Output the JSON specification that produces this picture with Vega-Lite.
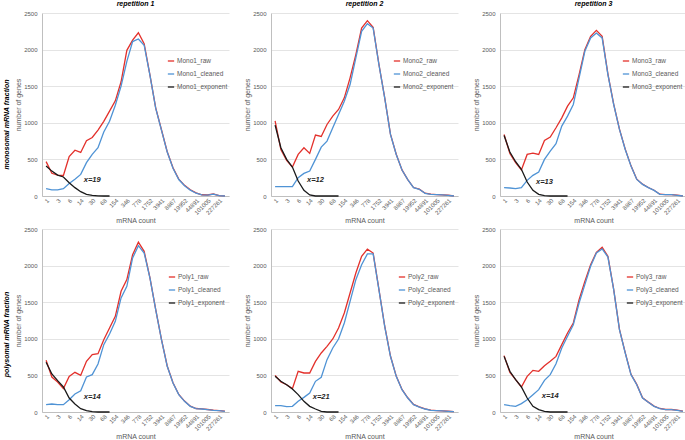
{
"$schema": "https://vega.github.io/schema/vega-lite/v6.json",
"background": "white",
"padding": {"left": 2, "top": 0, "right": 1, "bottom": 0},
"config": {
  "font": "Liberation Sans",
  "view": {"stroke": null},
  "axis": {"labelFontSize": 6, "labelColor": "#595959", "titleFontSize": 7, "titleColor": "#595959", "titleFontWeight": "normal", "domainColor": "#bfbfbf", "ticks": false, "gridColor": "#e4e4e4"},
  "axisX": {"grid": false, "labelAngle": -45, "labelPadding": 1, "titlePadding": 1},
  "axisY": {"grid": true, "labelPadding": 5, "titlePadding": 2, "format": "d"},
  "legend": {"orient": "none", "labelFontSize": 6.5, "labelColor": "#595959", "symbolType": "stroke", "symbolSize": 40, "symbolStrokeWidth": 1.5, "rowPadding": 5, "padding": 0, "labelOffset": 2},
  "title": {"fontSize": 7, "fontStyle": "italic", "fontWeight": "bold", "color": "#000000", "offset": 3},
  "line": {"strokeWidth": 1.3},
  "text": {"fontSize": 7.5, "fontStyle": "italic", "fontWeight": "bold", "color": "#262626"},
  "rule": {"color": "#c0c0c0", "strokeWidth": 1}
},
"datasets": {
"Mono1": [
{"s":"Mono1_raw","c":"1","v":470},{"s":"Mono1_raw","c":"2","v":310},{"s":"Mono1_raw","c":"3","v":285},{"s":"Mono1_raw","c":"4","v":280},{"s":"Mono1_raw","c":"6","v":540},{"s":"Mono1_raw","c":"9","v":625},{"s":"Mono1_raw","c":"14","v":595},{"s":"Mono1_raw","c":"20","v":755},{"s":"Mono1_raw","c":"30","v":800},{"s":"Mono1_raw","c":"45","v":900},{"s":"Mono1_raw","c":"68","v":1020},{"s":"Mono1_raw","c":"102","v":1160},{"s":"Mono1_raw","c":"154","v":1300},{"s":"Mono1_raw","c":"230","v":1560},{"s":"Mono1_raw","c":"346","v":1990},{"s":"Mono1_raw","c":"519","v":2130},{"s":"Mono1_raw","c":"778","v":2230},{"s":"Mono1_raw","c":"1168","v":2080},{"s":"Mono1_raw","c":"1752","v":1655},{"s":"Mono1_raw","c":"2628","v":1205},{"s":"Mono1_raw","c":"3941","v":905},{"s":"Mono1_raw","c":"5912","v":605},{"s":"Mono1_raw","c":"8867","v":385},{"s":"Mono1_raw","c":"13301","v":230},{"s":"Mono1_raw","c":"19952","v":145},{"s":"Mono1_raw","c":"29928","v":85},{"s":"Mono1_raw","c":"44891","v":42},{"s":"Mono1_raw","c":"67337","v":17},{"s":"Mono1_raw","c":"101005","v":14},{"s":"Mono1_raw","c":"151508","v":27},{"s":"Mono1_raw","c":"227261","v":6},{"s":"Mono1_raw","c":"340892","v":1},
{"s":"Mono1_cleaned","c":"1","v":100},{"s":"Mono1_cleaned","c":"2","v":85},{"s":"Mono1_cleaned","c":"3","v":85},{"s":"Mono1_cleaned","c":"4","v":100},{"s":"Mono1_cleaned","c":"6","v":170},{"s":"Mono1_cleaned","c":"9","v":230},{"s":"Mono1_cleaned","c":"14","v":295},{"s":"Mono1_cleaned","c":"20","v":455},{"s":"Mono1_cleaned","c":"30","v":570},{"s":"Mono1_cleaned","c":"45","v":660},{"s":"Mono1_cleaned","c":"68","v":875},{"s":"Mono1_cleaned","c":"102","v":1020},{"s":"Mono1_cleaned","c":"154","v":1240},{"s":"Mono1_cleaned","c":"230","v":1500},{"s":"Mono1_cleaned","c":"346","v":1840},{"s":"Mono1_cleaned","c":"519","v":2110},{"s":"Mono1_cleaned","c":"778","v":2145},{"s":"Mono1_cleaned","c":"1168","v":2060},{"s":"Mono1_cleaned","c":"1752","v":1650},{"s":"Mono1_cleaned","c":"2628","v":1200},{"s":"Mono1_cleaned","c":"3941","v":900},{"s":"Mono1_cleaned","c":"5912","v":600},{"s":"Mono1_cleaned","c":"8867","v":380},{"s":"Mono1_cleaned","c":"13301","v":225},{"s":"Mono1_cleaned","c":"19952","v":140},{"s":"Mono1_cleaned","c":"29928","v":80},{"s":"Mono1_cleaned","c":"44891","v":38},{"s":"Mono1_cleaned","c":"67337","v":15},{"s":"Mono1_cleaned","c":"101005","v":12},{"s":"Mono1_cleaned","c":"151508","v":25},{"s":"Mono1_cleaned","c":"227261","v":5},{"s":"Mono1_cleaned","c":"340892","v":0},
{"s":"Mono1_exponent","c":"1","v":410},{"s":"Mono1_exponent","c":"2","v":340},{"s":"Mono1_exponent","c":"3","v":285},{"s":"Mono1_exponent","c":"4","v":260},{"s":"Mono1_exponent","c":"6","v":182},{"s":"Mono1_exponent","c":"9","v":114},{"s":"Mono1_exponent","c":"14","v":59},{"s":"Mono1_exponent","c":"20","v":23},{"s":"Mono1_exponent","c":"30","v":9},{"s":"Mono1_exponent","c":"45","v":2},{"s":"Mono1_exponent","c":"68","v":0},{"s":"Mono1_exponent","c":"102","v":0}
],
"Mono2": [
{"s":"Mono2_raw","c":"1","v":1025},{"s":"Mono2_raw","c":"2","v":636},{"s":"Mono2_raw","c":"3","v":486},{"s":"Mono2_raw","c":"4","v":395},{"s":"Mono2_raw","c":"6","v":568},{"s":"Mono2_raw","c":"9","v":659},{"s":"Mono2_raw","c":"14","v":582},{"s":"Mono2_raw","c":"20","v":832},{"s":"Mono2_raw","c":"30","v":814},{"s":"Mono2_raw","c":"45","v":977},{"s":"Mono2_raw","c":"68","v":1091},{"s":"Mono2_raw","c":"102","v":1182},{"s":"Mono2_raw","c":"154","v":1341},{"s":"Mono2_raw","c":"230","v":1614},{"s":"Mono2_raw","c":"346","v":1932},{"s":"Mono2_raw","c":"519","v":2295},{"s":"Mono2_raw","c":"778","v":2395},{"s":"Mono2_raw","c":"1168","v":2304},{"s":"Mono2_raw","c":"1752","v":1800},{"s":"Mono2_raw","c":"2628","v":1345},{"s":"Mono2_raw","c":"3941","v":845},{"s":"Mono2_raw","c":"5912","v":570},{"s":"Mono2_raw","c":"8867","v":357},{"s":"Mono2_raw","c":"13301","v":225},{"s":"Mono2_raw","c":"19952","v":116},{"s":"Mono2_raw","c":"29928","v":93},{"s":"Mono2_raw","c":"44891","v":38},{"s":"Mono2_raw","c":"67337","v":25},{"s":"Mono2_raw","c":"101005","v":20},{"s":"Mono2_raw","c":"151508","v":16},{"s":"Mono2_raw","c":"227261","v":10},{"s":"Mono2_raw","c":"340892","v":2},
{"s":"Mono2_cleaned","c":"1","v":127},{"s":"Mono2_cleaned","c":"2","v":127},{"s":"Mono2_cleaned","c":"3","v":127},{"s":"Mono2_cleaned","c":"4","v":127},{"s":"Mono2_cleaned","c":"6","v":250},{"s":"Mono2_cleaned","c":"9","v":309},{"s":"Mono2_cleaned","c":"14","v":341},{"s":"Mono2_cleaned","c":"20","v":500},{"s":"Mono2_cleaned","c":"30","v":668},{"s":"Mono2_cleaned","c":"45","v":750},{"s":"Mono2_cleaned","c":"68","v":932},{"s":"Mono2_cleaned","c":"102","v":1114},{"s":"Mono2_cleaned","c":"154","v":1295},{"s":"Mono2_cleaned","c":"230","v":1523},{"s":"Mono2_cleaned","c":"346","v":1886},{"s":"Mono2_cleaned","c":"519","v":2250},{"s":"Mono2_cleaned","c":"778","v":2354},{"s":"Mono2_cleaned","c":"1168","v":2295},{"s":"Mono2_cleaned","c":"1752","v":1795},{"s":"Mono2_cleaned","c":"2628","v":1341},{"s":"Mono2_cleaned","c":"3941","v":841},{"s":"Mono2_cleaned","c":"5912","v":568},{"s":"Mono2_cleaned","c":"8867","v":355},{"s":"Mono2_cleaned","c":"13301","v":223},{"s":"Mono2_cleaned","c":"19952","v":114},{"s":"Mono2_cleaned","c":"29928","v":91},{"s":"Mono2_cleaned","c":"44891","v":36},{"s":"Mono2_cleaned","c":"67337","v":23},{"s":"Mono2_cleaned","c":"101005","v":18},{"s":"Mono2_cleaned","c":"151508","v":14},{"s":"Mono2_cleaned","c":"227261","v":9},{"s":"Mono2_cleaned","c":"340892","v":0},
{"s":"Mono2_exponent","c":"1","v":968},{"s":"Mono2_exponent","c":"2","v":659},{"s":"Mono2_exponent","c":"3","v":500},{"s":"Mono2_exponent","c":"4","v":395},{"s":"Mono2_exponent","c":"6","v":205},{"s":"Mono2_exponent","c":"9","v":77},{"s":"Mono2_exponent","c":"14","v":14},{"s":"Mono2_exponent","c":"20","v":0},{"s":"Mono2_exponent","c":"30","v":0},{"s":"Mono2_exponent","c":"45","v":0},{"s":"Mono2_exponent","c":"68","v":0},{"s":"Mono2_exponent","c":"102","v":0}
],
"Mono3": [
{"s":"Mono3_raw","c":"1","v":841},{"s":"Mono3_raw","c":"2","v":582},{"s":"Mono3_raw","c":"3","v":455},{"s":"Mono3_raw","c":"4","v":355},{"s":"Mono3_raw","c":"6","v":568},{"s":"Mono3_raw","c":"9","v":586},{"s":"Mono3_raw","c":"14","v":568},{"s":"Mono3_raw","c":"20","v":759},{"s":"Mono3_raw","c":"30","v":805},{"s":"Mono3_raw","c":"45","v":932},{"s":"Mono3_raw","c":"68","v":1068},{"s":"Mono3_raw","c":"102","v":1227},{"s":"Mono3_raw","c":"154","v":1341},{"s":"Mono3_raw","c":"230","v":1659},{"s":"Mono3_raw","c":"346","v":2000},{"s":"Mono3_raw","c":"519","v":2182},{"s":"Mono3_raw","c":"778","v":2263},{"s":"Mono3_raw","c":"1168","v":2182},{"s":"Mono3_raw","c":"1752","v":1665},{"s":"Mono3_raw","c":"2628","v":1255},{"s":"Mono3_raw","c":"3941","v":914},{"s":"Mono3_raw","c":"5912","v":640},{"s":"Mono3_raw","c":"8867","v":412},{"s":"Mono3_raw","c":"13301","v":230},{"s":"Mono3_raw","c":"19952","v":162},{"s":"Mono3_raw","c":"29928","v":116},{"s":"Mono3_raw","c":"44891","v":79},{"s":"Mono3_raw","c":"67337","v":25},{"s":"Mono3_raw","c":"101005","v":20},{"s":"Mono3_raw","c":"151508","v":20},{"s":"Mono3_raw","c":"227261","v":11},{"s":"Mono3_raw","c":"340892","v":2},
{"s":"Mono3_cleaned","c":"1","v":114},{"s":"Mono3_cleaned","c":"2","v":109},{"s":"Mono3_cleaned","c":"3","v":100},{"s":"Mono3_cleaned","c":"4","v":114},{"s":"Mono3_cleaned","c":"6","v":214},{"s":"Mono3_cleaned","c":"9","v":282},{"s":"Mono3_cleaned","c":"14","v":327},{"s":"Mono3_cleaned","c":"20","v":500},{"s":"Mono3_cleaned","c":"30","v":614},{"s":"Mono3_cleaned","c":"45","v":714},{"s":"Mono3_cleaned","c":"68","v":955},{"s":"Mono3_cleaned","c":"102","v":1091},{"s":"Mono3_cleaned","c":"154","v":1250},{"s":"Mono3_cleaned","c":"230","v":1614},{"s":"Mono3_cleaned","c":"346","v":1977},{"s":"Mono3_cleaned","c":"519","v":2159},{"s":"Mono3_cleaned","c":"778","v":2227},{"s":"Mono3_cleaned","c":"1168","v":2159},{"s":"Mono3_cleaned","c":"1752","v":1659},{"s":"Mono3_cleaned","c":"2628","v":1250},{"s":"Mono3_cleaned","c":"3941","v":909},{"s":"Mono3_cleaned","c":"5912","v":636},{"s":"Mono3_cleaned","c":"8867","v":409},{"s":"Mono3_cleaned","c":"13301","v":227},{"s":"Mono3_cleaned","c":"19952","v":159},{"s":"Mono3_cleaned","c":"29928","v":114},{"s":"Mono3_cleaned","c":"44891","v":77},{"s":"Mono3_cleaned","c":"67337","v":23},{"s":"Mono3_cleaned","c":"101005","v":18},{"s":"Mono3_cleaned","c":"151508","v":18},{"s":"Mono3_cleaned","c":"227261","v":9},{"s":"Mono3_cleaned","c":"340892","v":0},
{"s":"Mono3_exponent","c":"1","v":827},{"s":"Mono3_exponent","c":"2","v":600},{"s":"Mono3_exponent","c":"3","v":468},{"s":"Mono3_exponent","c":"4","v":364},{"s":"Mono3_exponent","c":"6","v":191},{"s":"Mono3_exponent","c":"9","v":77},{"s":"Mono3_exponent","c":"14","v":23},{"s":"Mono3_exponent","c":"20","v":5},{"s":"Mono3_exponent","c":"30","v":0},{"s":"Mono3_exponent","c":"45","v":0},{"s":"Mono3_exponent","c":"68","v":0},{"s":"Mono3_exponent","c":"102","v":0}
],
"Poly1": [
{"s":"Poly1_raw","c":"1","v":706},{"s":"Poly1_raw","c":"2","v":478},{"s":"Poly1_raw","c":"3","v":410},{"s":"Poly1_raw","c":"4","v":319},{"s":"Poly1_raw","c":"6","v":487},{"s":"Poly1_raw","c":"9","v":542},{"s":"Poly1_raw","c":"14","v":501},{"s":"Poly1_raw","c":"20","v":692},{"s":"Poly1_raw","c":"30","v":783},{"s":"Poly1_raw","c":"45","v":797},{"s":"Poly1_raw","c":"68","v":988},{"s":"Poly1_raw","c":"102","v":1148},{"s":"Poly1_raw","c":"154","v":1307},{"s":"Poly1_raw","c":"230","v":1649},{"s":"Poly1_raw","c":"346","v":1808},{"s":"Poly1_raw","c":"519","v":2150},{"s":"Poly1_raw","c":"778","v":2320},{"s":"Poly1_raw","c":"1168","v":2195},{"s":"Poly1_raw","c":"1752","v":1836},{"s":"Poly1_raw","c":"2628","v":1403},{"s":"Poly1_raw","c":"3941","v":993},{"s":"Poly1_raw","c":"5912","v":629},{"s":"Poly1_raw","c":"8867","v":400},{"s":"Poly1_raw","c":"13301","v":240},{"s":"Poly1_raw","c":"19952","v":149},{"s":"Poly1_raw","c":"29928","v":80},{"s":"Poly1_raw","c":"44891","v":48},{"s":"Poly1_raw","c":"67337","v":43},{"s":"Poly1_raw","c":"101005","v":34},{"s":"Poly1_raw","c":"151508","v":25},{"s":"Poly1_raw","c":"227261","v":20},{"s":"Poly1_raw","c":"340892","v":11},
{"s":"Poly1_cleaned","c":"1","v":100},{"s":"Poly1_cleaned","c":"2","v":109},{"s":"Poly1_cleaned","c":"3","v":100},{"s":"Poly1_cleaned","c":"4","v":100},{"s":"Poly1_cleaned","c":"6","v":168},{"s":"Poly1_cleaned","c":"9","v":246},{"s":"Poly1_cleaned","c":"14","v":291},{"s":"Poly1_cleaned","c":"20","v":478},{"s":"Poly1_cleaned","c":"30","v":510},{"s":"Poly1_cleaned","c":"45","v":656},{"s":"Poly1_cleaned","c":"68","v":920},{"s":"Poly1_cleaned","c":"102","v":1066},{"s":"Poly1_cleaned","c":"154","v":1239},{"s":"Poly1_cleaned","c":"230","v":1558},{"s":"Poly1_cleaned","c":"346","v":1717},{"s":"Poly1_cleaned","c":"519","v":2104},{"s":"Poly1_cleaned","c":"778","v":2272},{"s":"Poly1_cleaned","c":"1168","v":2172},{"s":"Poly1_cleaned","c":"1752","v":1831},{"s":"Poly1_cleaned","c":"2628","v":1398},{"s":"Poly1_cleaned","c":"3941","v":988},{"s":"Poly1_cleaned","c":"5912","v":624},{"s":"Poly1_cleaned","c":"8867","v":396},{"s":"Poly1_cleaned","c":"13301","v":237},{"s":"Poly1_cleaned","c":"19952","v":146},{"s":"Poly1_cleaned","c":"29928","v":77},{"s":"Poly1_cleaned","c":"44891","v":46},{"s":"Poly1_cleaned","c":"67337","v":41},{"s":"Poly1_cleaned","c":"101005","v":32},{"s":"Poly1_cleaned","c":"151508","v":23},{"s":"Poly1_cleaned","c":"227261","v":18},{"s":"Poly1_cleaned","c":"340892","v":9},
{"s":"Poly1_exponent","c":"1","v":679},{"s":"Poly1_exponent","c":"2","v":519},{"s":"Poly1_exponent","c":"3","v":428},{"s":"Poly1_exponent","c":"4","v":342},{"s":"Poly1_exponent","c":"6","v":191},{"s":"Poly1_exponent","c":"9","v":109},{"s":"Poly1_exponent","c":"14","v":46},{"s":"Poly1_exponent","c":"20","v":18},{"s":"Poly1_exponent","c":"30","v":5},{"s":"Poly1_exponent","c":"45","v":0},{"s":"Poly1_exponent","c":"68","v":0},{"s":"Poly1_exponent","c":"102","v":0}
],
"Poly2": [
{"s":"Poly2_raw","c":"1","v":501},{"s":"Poly2_raw","c":"2","v":410},{"s":"Poly2_raw","c":"3","v":373},{"s":"Poly2_raw","c":"4","v":319},{"s":"Poly2_raw","c":"6","v":556},{"s":"Poly2_raw","c":"9","v":533},{"s":"Poly2_raw","c":"14","v":533},{"s":"Poly2_raw","c":"20","v":692},{"s":"Poly2_raw","c":"30","v":806},{"s":"Poly2_raw","c":"45","v":897},{"s":"Poly2_raw","c":"68","v":997},{"s":"Poly2_raw","c":"102","v":1148},{"s":"Poly2_raw","c":"154","v":1353},{"s":"Poly2_raw","c":"230","v":1626},{"s":"Poly2_raw","c":"346","v":1899},{"s":"Poly2_raw","c":"519","v":2127},{"s":"Poly2_raw","c":"778","v":2225},{"s":"Poly2_raw","c":"1168","v":2172},{"s":"Poly2_raw","c":"1752","v":1676},{"s":"Poly2_raw","c":"2628","v":1175},{"s":"Poly2_raw","c":"3941","v":765},{"s":"Poly2_raw","c":"5912","v":490},{"s":"Poly2_raw","c":"8867","v":308},{"s":"Poly2_raw","c":"13301","v":194},{"s":"Poly2_raw","c":"19952","v":103},{"s":"Poly2_raw","c":"29928","v":70},{"s":"Poly2_raw","c":"44891","v":43},{"s":"Poly2_raw","c":"67337","v":25},{"s":"Poly2_raw","c":"101005","v":20},{"s":"Poly2_raw","c":"151508","v":15},{"s":"Poly2_raw","c":"227261","v":10},{"s":"Poly2_raw","c":"340892","v":6},
{"s":"Poly2_cleaned","c":"1","v":87},{"s":"Poly2_cleaned","c":"2","v":87},{"s":"Poly2_cleaned","c":"3","v":73},{"s":"Poly2_cleaned","c":"4","v":77},{"s":"Poly2_cleaned","c":"6","v":146},{"s":"Poly2_cleaned","c":"9","v":200},{"s":"Poly2_cleaned","c":"14","v":260},{"s":"Poly2_cleaned","c":"20","v":419},{"s":"Poly2_cleaned","c":"30","v":474},{"s":"Poly2_cleaned","c":"45","v":715},{"s":"Poly2_cleaned","c":"68","v":874},{"s":"Poly2_cleaned","c":"102","v":997},{"s":"Poly2_cleaned","c":"154","v":1216},{"s":"Poly2_cleaned","c":"230","v":1512},{"s":"Poly2_cleaned","c":"346","v":1808},{"s":"Poly2_cleaned","c":"519","v":2013},{"s":"Poly2_cleaned","c":"778","v":2159},{"s":"Poly2_cleaned","c":"1168","v":2159},{"s":"Poly2_cleaned","c":"1752","v":1671},{"s":"Poly2_cleaned","c":"2628","v":1170},{"s":"Poly2_cleaned","c":"3941","v":761},{"s":"Poly2_cleaned","c":"5912","v":487},{"s":"Poly2_cleaned","c":"8867","v":305},{"s":"Poly2_cleaned","c":"13301","v":191},{"s":"Poly2_cleaned","c":"19952","v":100},{"s":"Poly2_cleaned","c":"29928","v":68},{"s":"Poly2_cleaned","c":"44891","v":41},{"s":"Poly2_cleaned","c":"67337","v":23},{"s":"Poly2_cleaned","c":"101005","v":18},{"s":"Poly2_cleaned","c":"151508","v":14},{"s":"Poly2_cleaned","c":"227261","v":9},{"s":"Poly2_cleaned","c":"340892","v":5},
{"s":"Poly2_exponent","c":"1","v":487},{"s":"Poly2_exponent","c":"2","v":419},{"s":"Poly2_exponent","c":"3","v":373},{"s":"Poly2_exponent","c":"4","v":314},{"s":"Poly2_exponent","c":"6","v":237},{"s":"Poly2_exponent","c":"9","v":146},{"s":"Poly2_exponent","c":"14","v":77},{"s":"Poly2_exponent","c":"20","v":41},{"s":"Poly2_exponent","c":"30","v":9},{"s":"Poly2_exponent","c":"45","v":0},{"s":"Poly2_exponent","c":"68","v":0},{"s":"Poly2_exponent","c":"102","v":0}
],
"Poly3": [
{"s":"Poly3_raw","c":"1","v":770},{"s":"Poly3_raw","c":"2","v":542},{"s":"Poly3_raw","c":"3","v":442},{"s":"Poly3_raw","c":"4","v":342},{"s":"Poly3_raw","c":"6","v":487},{"s":"Poly3_raw","c":"9","v":569},{"s":"Poly3_raw","c":"14","v":556},{"s":"Poly3_raw","c":"20","v":633},{"s":"Poly3_raw","c":"30","v":692},{"s":"Poly3_raw","c":"45","v":760},{"s":"Poly3_raw","c":"68","v":920},{"s":"Poly3_raw","c":"102","v":1079},{"s":"Poly3_raw","c":"154","v":1216},{"s":"Poly3_raw","c":"230","v":1535},{"s":"Poly3_raw","c":"346","v":1785},{"s":"Poly3_raw","c":"519","v":2013},{"s":"Poly3_raw","c":"778","v":2181},{"s":"Poly3_raw","c":"1168","v":2250},{"s":"Poly3_raw","c":"1752","v":2127},{"s":"Poly3_raw","c":"2628","v":1675},{"s":"Poly3_raw","c":"3941","v":1130},{"s":"Poly3_raw","c":"5912","v":810},{"s":"Poly3_raw","c":"8867","v":515},{"s":"Poly3_raw","c":"13301","v":377},{"s":"Poly3_raw","c":"19952","v":195},{"s":"Poly3_raw","c":"29928","v":135},{"s":"Poly3_raw","c":"44891","v":80},{"s":"Poly3_raw","c":"67337","v":48},{"s":"Poly3_raw","c":"101005","v":34},{"s":"Poly3_raw","c":"151508","v":34},{"s":"Poly3_raw","c":"227261","v":25},{"s":"Poly3_raw","c":"340892","v":11},
{"s":"Poly3_cleaned","c":"1","v":100},{"s":"Poly3_cleaned","c":"2","v":87},{"s":"Poly3_cleaned","c":"3","v":77},{"s":"Poly3_cleaned","c":"4","v":114},{"s":"Poly3_cleaned","c":"6","v":168},{"s":"Poly3_cleaned","c":"9","v":237},{"s":"Poly3_cleaned","c":"14","v":305},{"s":"Poly3_cleaned","c":"20","v":433},{"s":"Poly3_cleaned","c":"30","v":510},{"s":"Poly3_cleaned","c":"45","v":660},{"s":"Poly3_cleaned","c":"68","v":874},{"s":"Poly3_cleaned","c":"102","v":1034},{"s":"Poly3_cleaned","c":"154","v":1193},{"s":"Poly3_cleaned","c":"230","v":1489},{"s":"Poly3_cleaned","c":"346","v":1740},{"s":"Poly3_cleaned","c":"519","v":1990},{"s":"Poly3_cleaned","c":"778","v":2172},{"s":"Poly3_cleaned","c":"1168","v":2227},{"s":"Poly3_cleaned","c":"1752","v":2117},{"s":"Poly3_cleaned","c":"2628","v":1671},{"s":"Poly3_cleaned","c":"3941","v":1125},{"s":"Poly3_cleaned","c":"5912","v":806},{"s":"Poly3_cleaned","c":"8867","v":510},{"s":"Poly3_cleaned","c":"13301","v":373},{"s":"Poly3_cleaned","c":"19952","v":191},{"s":"Poly3_cleaned","c":"29928","v":132},{"s":"Poly3_cleaned","c":"44891","v":77},{"s":"Poly3_cleaned","c":"67337","v":46},{"s":"Poly3_cleaned","c":"101005","v":32},{"s":"Poly3_cleaned","c":"151508","v":32},{"s":"Poly3_cleaned","c":"227261","v":23},{"s":"Poly3_cleaned","c":"340892","v":9},
{"s":"Poly3_exponent","c":"1","v":760},{"s":"Poly3_exponent","c":"2","v":556},{"s":"Poly3_exponent","c":"3","v":442},{"s":"Poly3_exponent","c":"4","v":342},{"s":"Poly3_exponent","c":"6","v":191},{"s":"Poly3_exponent","c":"9","v":77},{"s":"Poly3_exponent","c":"14","v":32},{"s":"Poly3_exponent","c":"20","v":9},{"s":"Poly3_exponent","c":"30","v":0},{"s":"Poly3_exponent","c":"45","v":0},{"s":"Poly3_exponent","c":"68","v":0},{"s":"Poly3_exponent","c":"102","v":0}
]
},
"spacing": 2,
"vconcat": [
{
"spacing": 14,
"resolve": {"scale": {"color": "independent", "x": "independent", "y": "independent"}, "legend": {"color": "independent"}},
"hconcat": [
{
"width": 187, "height": 183, "title": "repetition 1",
"encoding": {
 "x": {"field": "c", "type": "ordinal", "scale": {"domain": ["1","2","3","4","6","9","14","20","30","45","68","102","154","230","346","519","778","1168","1752","2628","3941","5912","8867","13301","19952","29928","44891","67337","101005","151508","227261","340892"], "padding": 0.42}, "axis": {"values": ["1","3","6","14","30","68","154","346","778","1752","3941","8867","19952","44891","101005","227261"], "title": "mRNA count"}},
 "y": {"field": "v", "type": "quantitative", "scale": {"domain": [0, 2500]}, "axis": {"values": [0,500,1000,1500,2000,2500], "title": "number of genes"}}},
"resolve": {"scale": {"y": "independent"}},
"layer": [
{"layer": [
{"data": {"values": [{"c": "778"}]}, "mark": "rule", "encoding": {"y": {"datum": 0}, "y2": {"datum": 2500}}},
{"data": {"name": "Mono1"}, "transform": [{"filter": "datum.s == 'Mono1_raw'"}], "mark": "line", "encoding": {"color": {"field": "s", "type": "nominal", "title": null, "scale": {"domain": ["Mono1_raw","Mono1_cleaned","Mono1_exponent"], "range": ["#e3302b","#4f93d5","#1a1a1a"]}, "legend": {"legendX": 125, "legendY": 44}}}},
{"data": {"name": "Mono1"}, "transform": [{"filter": "datum.s == 'Mono1_cleaned'"}], "mark": "line", "encoding": {"color": {"field": "s", "type": "nominal", "title": null}}},
{"data": {"name": "Mono1"}, "transform": [{"filter": "datum.s == 'Mono1_exponent'"}], "mark": "line", "encoding": {"color": {"field": "s", "type": "nominal", "title": null}}}
]},
{"data": {"values": [{"c": "30", "v": 220, "t": "x=19"}]}, "mark": "text", "encoding": {"y": {"field": "v", "type": "quantitative", "scale": {"domain": [0, 2500]}, "axis": {"orient": "left", "title": "monosomal  mRNA fraction", "labels": false, "domain": false, "grid": false, "ticks": false, "titleX": -36, "titleY": 111, "titleAngle": -90, "titleAlign": "center", "titleBaseline": "middle", "titleColor": "#000000", "titleFontWeight": "bold", "titleFontStyle": "italic", "titleFontSize": 7}}, "text": {"field": "t"}}}
]
},
{
"width": 187, "height": 183, "title": "repetition 2",
"encoding": {
 "x": {"field": "c", "type": "ordinal", "scale": {"domain": ["1","2","3","4","6","9","14","20","30","45","68","102","154","230","346","519","778","1168","1752","2628","3941","5912","8867","13301","19952","29928","44891","67337","101005","151508","227261","340892"], "padding": 0.42}, "axis": {"values": ["1","3","6","14","30","68","154","346","778","1752","3941","8867","19952","44891","101005","227261"], "title": "mRNA count"}},
 "y": {"field": "v", "type": "quantitative", "scale": {"domain": [0, 2500]}, "axis": {"values": [0,500,1000,1500,2000,2500], "title": "number of genes"}}},
"layer": [
{"data": {"values": [{"c": "778"}]}, "mark": "rule", "encoding": {"y": {"datum": 0}, "y2": {"datum": 2500}}},
{"data": {"name": "Mono2"}, "transform": [{"filter": "datum.s == 'Mono2_raw'"}], "mark": "line", "encoding": {"color": {"field": "s", "type": "nominal", "title": null, "scale": {"domain": ["Mono2_raw","Mono2_cleaned","Mono2_exponent"], "range": ["#e3302b","#4f93d5","#1a1a1a"]}, "legend": {"legendX": 122, "legendY": 44}}}},
{"data": {"name": "Mono2"}, "transform": [{"filter": "datum.s == 'Mono2_cleaned'"}], "mark": "line", "encoding": {"color": {"field": "s", "type": "nominal", "title": null}}},
{"data": {"name": "Mono2"}, "transform": [{"filter": "datum.s == 'Mono2_exponent'"}], "mark": "line", "encoding": {"color": {"field": "s", "type": "nominal", "title": null}}},
{"data": {"values": [{"c": "20", "v": 218, "t": "x=12"}]}, "mark": "text", "encoding": {"text": {"field": "t"}}}
]
},
{
"width": 187, "height": 183, "title": "repetition 3",
"encoding": {
 "x": {"field": "c", "type": "ordinal", "scale": {"domain": ["1","2","3","4","6","9","14","20","30","45","68","102","154","230","346","519","778","1168","1752","2628","3941","5912","8867","13301","19952","29928","44891","67337","101005","151508","227261","340892"], "padding": 0.42}, "axis": {"values": ["1","3","6","14","30","68","154","346","778","1752","3941","8867","19952","44891","101005","227261"], "title": "mRNA count"}},
 "y": {"field": "v", "type": "quantitative", "scale": {"domain": [0, 2500]}, "axis": {"values": [0,500,1000,1500,2000,2500], "title": "number of genes"}}},
"layer": [
{"data": {"values": [{"c": "778"}]}, "mark": "rule", "encoding": {"y": {"datum": 0}, "y2": {"datum": 2500}}},
{"data": {"name": "Mono3"}, "transform": [{"filter": "datum.s == 'Mono3_raw'"}], "mark": "line", "encoding": {"color": {"field": "s", "type": "nominal", "title": null, "scale": {"domain": ["Mono3_raw","Mono3_cleaned","Mono3_exponent"], "range": ["#e3302b","#4f93d5","#1a1a1a"]}, "legend": {"legendX": 122, "legendY": 44}}}},
{"data": {"name": "Mono3"}, "transform": [{"filter": "datum.s == 'Mono3_cleaned'"}], "mark": "line", "encoding": {"color": {"field": "s", "type": "nominal", "title": null}}},
{"data": {"name": "Mono3"}, "transform": [{"filter": "datum.s == 'Mono3_exponent'"}], "mark": "line", "encoding": {"color": {"field": "s", "type": "nominal", "title": null}}},
{"data": {"values": [{"c": "20", "v": 191, "t": "x=13"}]}, "mark": "text", "encoding": {"text": {"field": "t"}}}
]
}
]
},
{
"spacing": 14,
"resolve": {"scale": {"color": "independent", "x": "independent", "y": "independent"}, "legend": {"color": "independent"}},
"hconcat": [
{
"width": 187, "height": 183,
"encoding": {
 "x": {"field": "c", "type": "ordinal", "scale": {"domain": ["1","2","3","4","6","9","14","20","30","45","68","102","154","230","346","519","778","1168","1752","2628","3941","5912","8867","13301","19952","29928","44891","67337","101005","151508","227261","340892"], "padding": 0.42}, "axis": {"values": ["1","3","6","14","30","68","154","346","778","1752","3941","8867","19952","44891","101005","227261"], "title": "mRNA count"}},
 "y": {"field": "v", "type": "quantitative", "scale": {"domain": [0, 2500]}, "axis": {"values": [0,500,1000,1500,2000,2500], "title": "number of genes"}}},
"resolve": {"scale": {"y": "independent"}},
"layer": [
{"layer": [
{"data": {"values": [{"c": "778"}]}, "mark": "rule", "encoding": {"y": {"datum": 0}, "y2": {"datum": 2500}}},
{"data": {"name": "Poly1"}, "transform": [{"filter": "datum.s == 'Poly1_raw'"}], "mark": "line", "encoding": {"color": {"field": "s", "type": "nominal", "title": null, "scale": {"domain": ["Poly1_raw","Poly1_cleaned","Poly1_exponent"], "range": ["#e3302b","#4f93d5","#1a1a1a"]}, "legend": {"legendX": 126, "legendY": 44}}}},
{"data": {"name": "Poly1"}, "transform": [{"filter": "datum.s == 'Poly1_cleaned'"}], "mark": "line", "encoding": {"color": {"field": "s", "type": "nominal", "title": null}}},
{"data": {"name": "Poly1"}, "transform": [{"filter": "datum.s == 'Poly1_exponent'"}], "mark": "line", "encoding": {"color": {"field": "s", "type": "nominal", "title": null}}}
]},
{"data": {"values": [{"c": "30", "v": 201, "t": "x=14"}]}, "mark": "text", "encoding": {"y": {"field": "v", "type": "quantitative", "scale": {"domain": [0, 2500]}, "axis": {"orient": "left", "title": "polysomal  mRNA fraction", "labels": false, "domain": false, "grid": false, "ticks": false, "titleX": -36, "titleY": 105, "titleAngle": -90, "titleAlign": "center", "titleBaseline": "middle", "titleColor": "#000000", "titleFontWeight": "bold", "titleFontStyle": "italic", "titleFontSize": 7}}, "text": {"field": "t"}}}
]
},
{
"width": 187, "height": 183,
"encoding": {
 "x": {"field": "c", "type": "ordinal", "scale": {"domain": ["1","2","3","4","6","9","14","20","30","45","68","102","154","230","346","519","778","1168","1752","2628","3941","5912","8867","13301","19952","29928","44891","67337","101005","151508","227261","340892"], "padding": 0.42}, "axis": {"values": ["1","3","6","14","30","68","154","346","778","1752","3941","8867","19952","44891","101005","227261"], "title": "mRNA count"}},
 "y": {"field": "v", "type": "quantitative", "scale": {"domain": [0, 2500]}, "axis": {"values": [0,500,1000,1500,2000,2500], "title": "number of genes"}}},
"layer": [
{"data": {"values": [{"c": "1168"}]}, "mark": "rule", "encoding": {"y": {"datum": 0}, "y2": {"datum": 2500}}},
{"data": {"name": "Poly2"}, "transform": [{"filter": "datum.s == 'Poly2_raw'"}], "mark": "line", "encoding": {"color": {"field": "s", "type": "nominal", "title": null, "scale": {"domain": ["Poly2_raw","Poly2_cleaned","Poly2_exponent"], "range": ["#e3302b","#4f93d5","#1a1a1a"]}, "legend": {"legendX": 127, "legendY": 44}}}},
{"data": {"name": "Poly2"}, "transform": [{"filter": "datum.s == 'Poly2_cleaned'"}], "mark": "line", "encoding": {"color": {"field": "s", "type": "nominal", "title": null}}},
{"data": {"name": "Poly2"}, "transform": [{"filter": "datum.s == 'Poly2_exponent'"}], "mark": "line", "encoding": {"color": {"field": "s", "type": "nominal", "title": null}}},
{"data": {"values": [{"c": "30", "v": 201, "t": "x=21"}]}, "mark": "text", "encoding": {"text": {"field": "t"}}}
]
},
{
"width": 187, "height": 183,
"encoding": {
 "x": {"field": "c", "type": "ordinal", "scale": {"domain": ["1","2","3","4","6","9","14","20","30","45","68","102","154","230","346","519","778","1168","1752","2628","3941","5912","8867","13301","19952","29928","44891","67337","101005","151508","227261","340892"], "padding": 0.42}, "axis": {"values": ["1","3","6","14","30","68","154","346","778","1752","3941","8867","19952","44891","101005","227261"], "title": "mRNA count"}},
 "y": {"field": "v", "type": "quantitative", "scale": {"domain": [0, 2500]}, "axis": {"values": [0,500,1000,1500,2000,2500], "title": "number of genes"}}},
"layer": [
{"data": {"values": [{"c": "1168"}]}, "mark": "rule", "encoding": {"y": {"datum": 0}, "y2": {"datum": 2500}}},
{"data": {"name": "Poly3"}, "transform": [{"filter": "datum.s == 'Poly3_raw'"}], "mark": "line", "encoding": {"color": {"field": "s", "type": "nominal", "title": null, "scale": {"domain": ["Poly3_raw","Poly3_cleaned","Poly3_exponent"], "range": ["#e3302b","#4f93d5","#1a1a1a"]}, "legend": {"legendX": 126, "legendY": 44}}}},
{"data": {"name": "Poly3"}, "transform": [{"filter": "datum.s == 'Poly3_cleaned'"}], "mark": "line", "encoding": {"color": {"field": "s", "type": "nominal", "title": null}}},
{"data": {"name": "Poly3"}, "transform": [{"filter": "datum.s == 'Poly3_exponent'"}], "mark": "line", "encoding": {"color": {"field": "s", "type": "nominal", "title": null}}},
{"data": {"values": [{"c": "30", "v": 214, "t": "x=14"}]}, "mark": "text", "encoding": {"text": {"field": "t"}}}
]
}
]
}
]
}
